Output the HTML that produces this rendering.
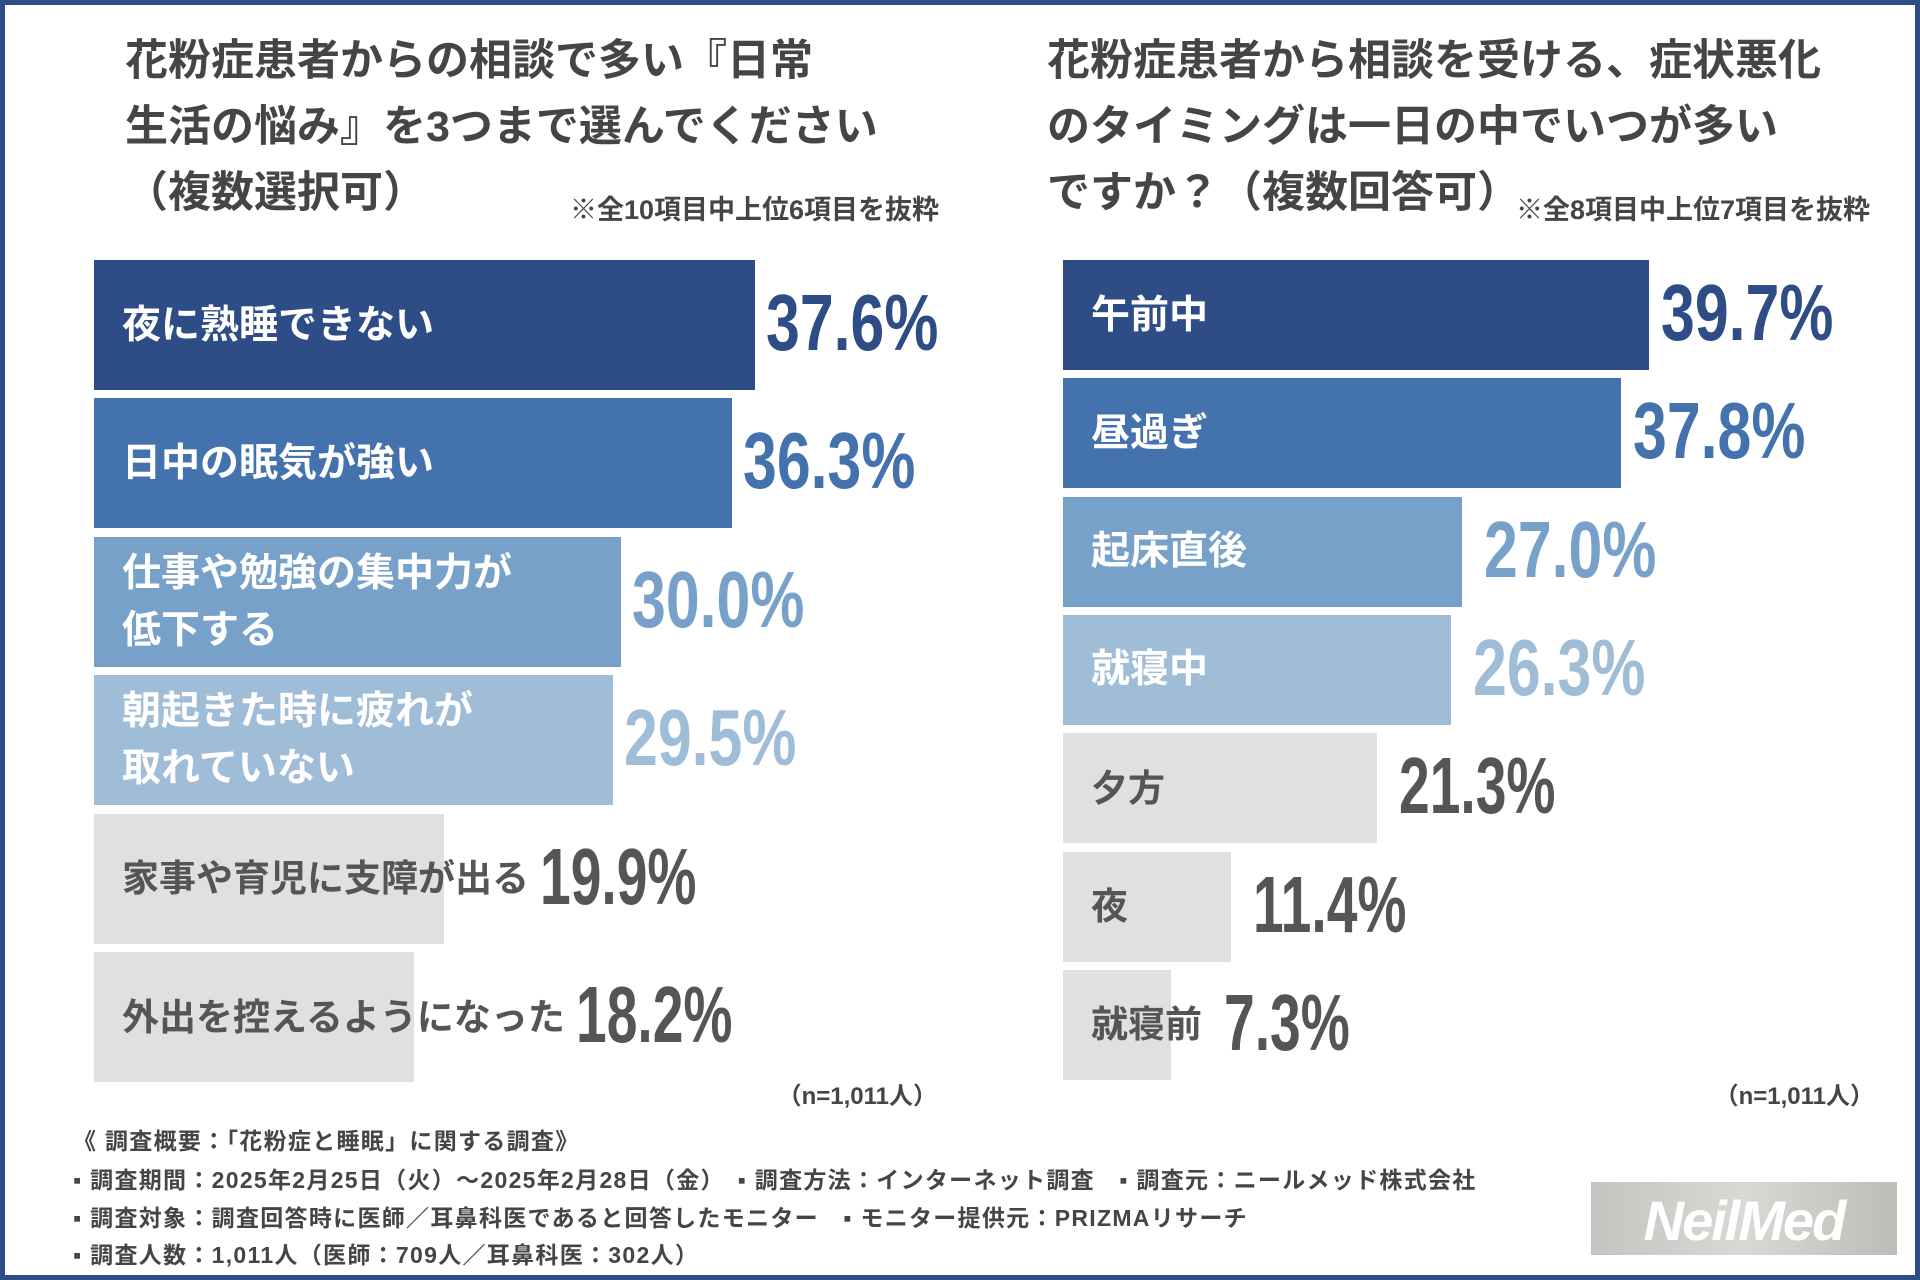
<!DOCTYPE html>
<html><head><meta charset="utf-8">
<style>
html,body{margin:0;padding:0}
body{width:1920px;height:1280px;position:relative;overflow:hidden;background:#fff;font-family:"Liberation Sans","Noto Sans CJK JP",sans-serif;}
.frame{position:absolute;left:0;top:0;width:1920px;height:1280px;box-sizing:border-box;border:5px solid #2e4d87;}
.t{position:absolute;font-weight:bold;color:#454545;white-space:nowrap}
.title{font-size:43px;line-height:66px}
.note{font-size:27px}
.bar{position:absolute}
.lbl{position:absolute;font-weight:bold;white-space:pre;line-height:57px}
.val{position:absolute;font-weight:bold;font-size:80px;transform-origin:left center;white-space:nowrap;line-height:1}
.foot{position:absolute;left:73px;font-size:23px;font-weight:bold;color:#454545;white-space:nowrap;letter-spacing:1.3px}
</style></head>
<body>
<div class="frame"></div>

<div class="t title" style="left:125px;top:28px">花粉症患者からの相談で多い『日常<br>生活の悩み』を3つまで選んでください<br>（複数選択可）</div>
<div class="t note" style="left:570px;top:188px">※全10項目中上位6項目を抜粋</div>

<div class="t title" style="left:1047px;top:28px">花粉症患者から相談を受ける、症状悪化<br>のタイミングは一日の中でいつが多い<br>ですか？（複数回答可）</div>
<div class="t note" style="left:1516px;top:188px">※全8項目中上位7項目を抜粋</div>

<div class="t" style="right:983px;top:1076px;font-size:24px">（n=1,011人）</div>
<div class="t" style="right:46px;top:1076px;font-size:24px">（n=1,011人）</div>

<div id="charts"></div>

<div class="foot" style="top:1122px">《 調査概要：「花粉症と睡眠」に関する調査》</div>
<div class="foot" style="top:1161px">▪ 調査期間：2025年2月25日（火）〜2025年2月28日（金）　▪ 調査方法：インターネット調査　▪ 調査元：ニールメッド株式会社</div>
<div class="foot" style="top:1199px">▪ 調査対象：調査回答時に医師／耳鼻科医であると回答したモニター　▪ モニター提供元：PRIZMAリサーチ</div>
<div class="foot" style="top:1236px">▪ 調査人数：1,011人（医師：709人／耳鼻科医：302人）</div>

<div style="position:absolute;left:1591px;top:1182px;width:306px;height:73px;background:linear-gradient(90deg,#c4c4c0,#d8d8d4,#bdbdb8);"><div style="position:absolute;left:0;right:0;top:6px;text-align:center;color:#fff;font-weight:bold;font-style:italic;font-size:56px;letter-spacing:-2px;">NeilMed</div></div>

<script>
const leftCategories=["夜に熟睡できない","日中の眠気が強い","仕事や勉強の集中力が\n低下する","朝起きた時に疲れが\n取れていない","家事や育児に支障が出る","外出を控えるようになった"];
const leftValues=[37.6,36.3,30.0,29.5,19.9,18.2];
const rightCategories=["午前中","昼過ぎ","起床直後","就寝中","夕方","夜","就寝前"];
const rightValues=[39.7,37.8,27.0,26.3,21.3,11.4,7.3];
const fills=["#2e4d87","#4472ad","#77a1c8","#a0bdd8","#e0e0e0","#e0e0e0","#e0e0e0"];
const valColors=["#2e4d87","#4472ad","#77a1c8","#a0bdd8","#555","#555","#555"];

const root=document.getElementById('charts');
function drawChart(cfg,cats,vals,prefix){
  const xScale=v=>cfg.x0+v*cfg.pxPer;
  const yScale=i=>cfg.y0+i*cfg.step;
  cats.forEach((c,i)=>{
    const b=document.createElement('div');
    b.className='bar';
    
    
    b.style.left=cfg.x0+'px';b.style.top=yScale(i)+'px';
    b.style.width=(xScale(vals[i])-cfg.x0)+'px';b.style.height=cfg.h+'px';
    b.style.background=fills[i];
    root.appendChild(b);
    const l=document.createElement('div');
    l.className='lbl';
    
    
    l.textContent=c;
    l.style.fontSize=(i<4?cfg.fs:cfg.fs2)+'px';
    l.style.color=i<4?'#fff':'#555';
    l.style.left=cfg.lx+'px';
    root.appendChild(l);
    const lh=l.offsetHeight;
    l.style.top=(yScale(i)+cfg.h/2-lh/2)+'px';
    const labelEnd=cfg.lx+l.offsetWidth;
    const v=document.createElement('div');
    v.className='val';
    
    
    v.textContent=vals[i].toFixed(1)+'%';
    v.style.color=valColors[i];
    v.style.transform='scaleX('+(i<4?0.76:0.69)+')';
    const gap=(i===0||i===1)?cfg.gap:cfg.gap+(prefix==='right'?10:0);
    v.style.left=(Math.max(xScale(vals[i]),labelEnd)+gap)+'px';
    v.style.top=(yScale(i)+cfg.h/2-42)+'px';
    root.appendChild(v);
  });
}
drawChart({x0:94,pxPer:17.58,y0:260,step:138.4,h:130,lx:122,fs:39,fs2:37,gap:11},leftCategories,leftValues,'left');
drawChart({x0:1063,pxPer:14.76,y0:260,step:118.3,h:110,lx:1091,fs:39,fs2:37,gap:12},rightCategories,rightValues,'right');
</script>
</body></html>
